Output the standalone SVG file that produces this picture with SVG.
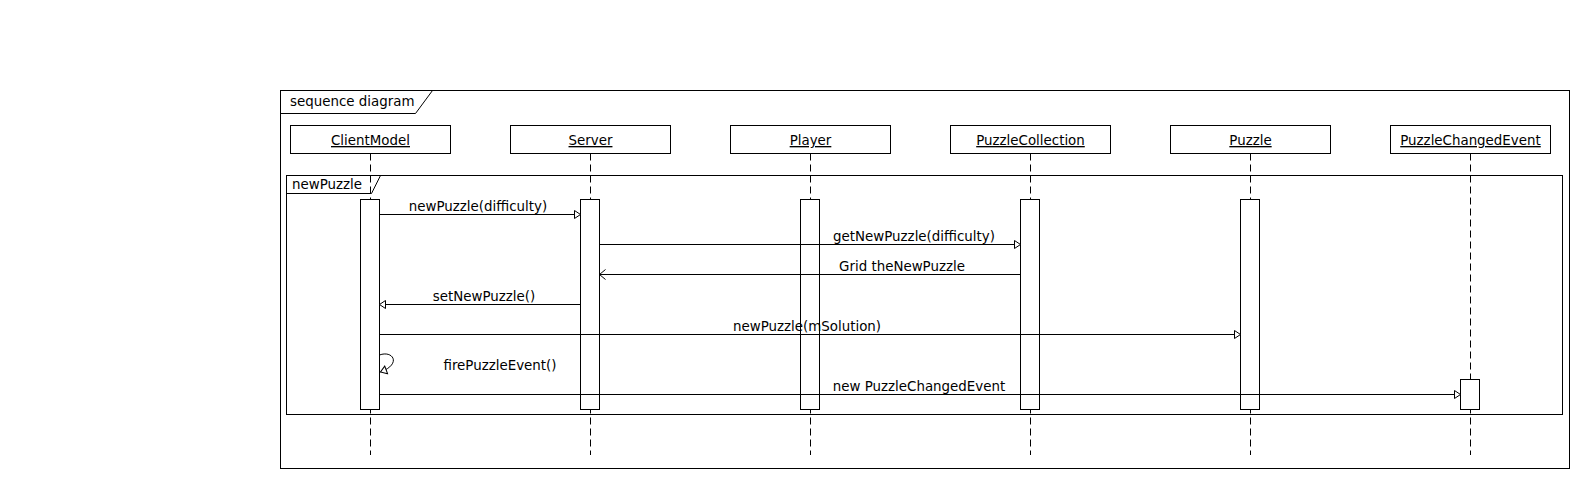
<svg xmlns="http://www.w3.org/2000/svg" width="1590" height="490" viewBox="0 0 1590 490">
<style>
  .frame { fill: none; stroke: #000; stroke-width: 1; }
  .box { fill: #fff; stroke: #000; stroke-width: 1; }
  .act { fill: #fff; stroke: #000; stroke-width: 1; }
  .life { stroke: #000; stroke-width: 1; stroke-dasharray: 7 4; fill: none; }
  .msg { stroke: #000; stroke-width: 1; fill: none; }
  .call { marker-end: url(#tri); }
  .ret { marker-end: url(#open); }
  text { font-family: "DejaVu Sans", "Liberation Sans", sans-serif; font-size: 13.4px; fill: #000; }
  .name { text-anchor: middle; text-decoration: underline; }
  .lbl { text-anchor: middle; }
</style>
<defs>
  <marker id="tri" markerUnits="userSpaceOnUse" markerWidth="8" markerHeight="10" refX="6.5" refY="4.5" orient="auto" overflow="visible">
    <path d="M0.5,0.5 L6.5,4.5 L0.5,8.5 z" fill="#fff" stroke="#000" stroke-width="1"/>
  </marker>
  <marker id="open" markerUnits="userSpaceOnUse" markerWidth="8" markerHeight="12" refX="6.5" refY="5.5" orient="auto" overflow="visible">
    <path d="M0.5,0.5 L6.5,5.5 L0.5,10.5" fill="none" stroke="#000" stroke-width="1"/>
  </marker>
</defs>
<rect width="1590" height="490" fill="#fff"/>

<g id="frame-sequence">
  <rect class="frame" x="280.5" y="90.5" width="1289" height="378"/>
  <path class="frame" d="M280.5,113.5 H415.5 L432.5,90.5"/>
  <text x="290" y="106">sequence diagram</text>
</g>

<g id="lifelines">
  <line class="life" x1="370.5" y1="153.5" x2="370.5" y2="455"/>
  <line class="life" x1="590.5" y1="153.5" x2="590.5" y2="455"/>
  <line class="life" x1="810.5" y1="153.5" x2="810.5" y2="455"/>
  <line class="life" x1="1030.5" y1="153.5" x2="1030.5" y2="455"/>
  <line class="life" x1="1250.5" y1="153.5" x2="1250.5" y2="455"/>
  <line class="life" x1="1470.5" y1="153.5" x2="1470.5" y2="455"/>
</g>

<g id="node-ClientModel">
  <rect class="box" x="290.5" y="125.5" width="160" height="28"/>
  <text class="name" x="370.5" y="145">ClientModel</text>
</g>
<g id="node-Server">
  <rect class="box" x="510.5" y="125.5" width="160" height="28"/>
  <text class="name" x="590.5" y="145">Server</text>
</g>
<g id="node-Player">
  <rect class="box" x="730.5" y="125.5" width="160" height="28"/>
  <text class="name" x="810.5" y="145">Player</text>
</g>
<g id="node-PuzzleCollection">
  <rect class="box" x="950.5" y="125.5" width="160" height="28"/>
  <text class="name" x="1030.5" y="145">PuzzleCollection</text>
</g>
<g id="node-Puzzle">
  <rect class="box" x="1170.5" y="125.5" width="160" height="28"/>
  <text class="name" x="1250.5" y="145">Puzzle</text>
</g>
<g id="node-PuzzleChangedEvent">
  <rect class="box" x="1390.5" y="125.5" width="160" height="28"/>
  <text class="name" x="1470.5" y="145">PuzzleChangedEvent</text>
</g>

<g id="fragment-newPuzzle">
  <rect class="frame" x="286.5" y="175.5" width="1276" height="239"/>
  <path class="frame" d="M286.5,193.5 H371.5 L380.5,175.5"/>
  <text x="292" y="189">newPuzzle</text>
</g>

<g id="activations">
  <rect class="act" x="360.5" y="199.5" width="19" height="210"/>
  <rect class="act" x="580.5" y="199.5" width="19" height="210"/>
  <rect class="act" x="800.5" y="199.5" width="19" height="210"/>
  <rect class="act" x="1020.5" y="199.5" width="19" height="210"/>
  <rect class="act" x="1240.5" y="199.5" width="19" height="210"/>
  <rect class="act" x="1460.5" y="379.5" width="19" height="30"/>
</g>

<g id="connectors">
  <line class="msg call" x1="379.5" y1="214.5" x2="580.5" y2="214.5"/>
  <line class="msg call" x1="599.5" y1="244.5" x2="1020.5" y2="244.5"/>
  <line class="msg ret" x1="1020.5" y1="274.5" x2="599.5" y2="274.5"/>
  <line class="msg call" x1="580.5" y1="304.5" x2="379.5" y2="304.5"/>
  <line class="msg call" x1="379.5" y1="334.5" x2="1240.5" y2="334.5"/>
  <path class="msg call" d="M379.5,355 C393,350 402,364 380.5,372"/>
  <line class="msg call" x1="379.5" y1="394.5" x2="1460.5" y2="394.5"/>
</g>

<g id="labels">
  <text class="lbl" x="478" y="211">newPuzzle(difficulty)</text>
  <text class="lbl" x="914" y="241">getNewPuzzle(difficulty)</text>
  <text class="lbl" x="902" y="271">Grid theNewPuzzle</text>
  <text class="lbl" x="484" y="301">setNewPuzzle()</text>
  <text class="lbl" x="807" y="331">newPuzzle(mSolution)</text>
  <text class="lbl" x="500" y="370">firePuzzleEvent()</text>
  <text class="lbl" x="919" y="391">new PuzzleChangedEvent</text>
</g>
</svg>
